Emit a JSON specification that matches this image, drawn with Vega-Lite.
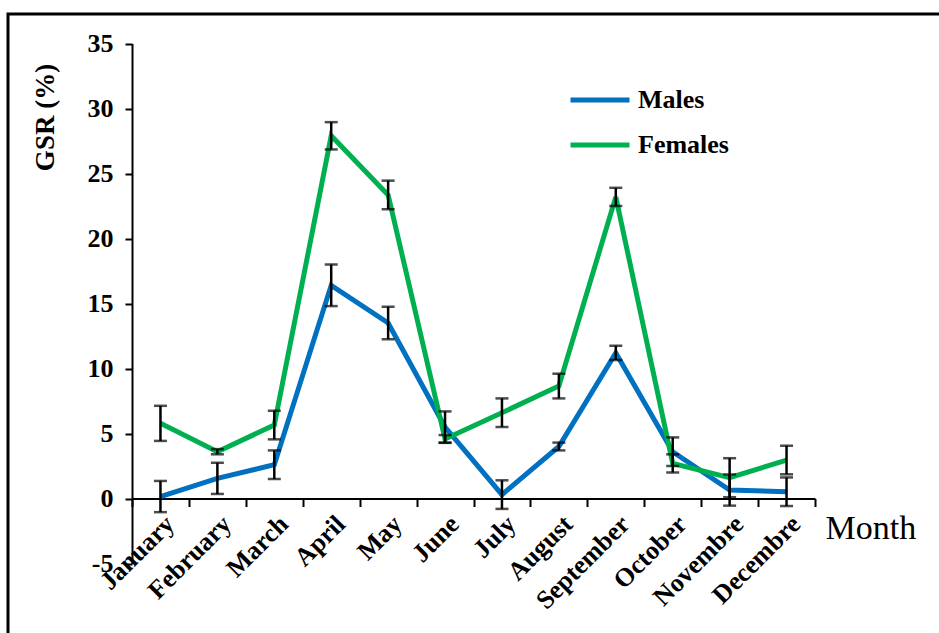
{
  "$schema": "https://vega.github.io/schema/vega-lite/v6.json",
  "width": 935,
  "height": 623,
  "autosize": {"type": "none"},
  "padding": {"left": 8, "top": 14, "right": -4, "bottom": -4},
  "background": "white",
  "config": {
    "view": {"stroke": "black", "strokeWidth": 3},
    "font": "Liberation Serif",
    "axis": {
      "grid": false,
      "domainColor": "black",
      "domainWidth": 2,
      "tickColor": "black",
      "tickWidth": 2,
      "tickSize": 8,
      "labelColor": "black",
      "labelFont": "Liberation Serif",
      "labelFontWeight": "bold",
      "labelFontSize": 26,
      "titleColor": "black",
      "titleFont": "Liberation Serif"
    },
    "legend": {
      "labelFont": "Liberation Serif",
      "labelFontWeight": "bold",
      "labelFontSize": 26,
      "labelColor": "black"
    }
  },
  "data": {
    "values": [
      {"month": "January", "sex": "Males", "value": 0.15, "err": 1.2},
      {"month": "February", "sex": "Males", "value": 1.55, "err": 1.2},
      {"month": "March", "sex": "Males", "value": 2.6, "err": 1.1},
      {"month": "April", "sex": "Males", "value": 16.4, "err": 1.6},
      {"month": "May", "sex": "Males", "value": 13.5, "err": 1.25},
      {"month": "June", "sex": "Males", "value": 5.5, "err": 1.2},
      {"month": "July", "sex": "Males", "value": 0.3, "err": 1.1},
      {"month": "August", "sex": "Males", "value": 4.0, "err": 0.3},
      {"month": "September", "sex": "Males", "value": 11.2, "err": 0.55},
      {"month": "October", "sex": "Males", "value": 3.6, "err": 1.1},
      {"month": "Novembre", "sex": "Males", "value": 0.65, "err": 1.2},
      {"month": "Decembre", "sex": "Males", "value": 0.52, "err": 1.1},
      {"month": "January", "sex": "Females", "value": 5.78, "err": 1.35},
      {"month": "February", "sex": "Females", "value": 3.6, "err": 0.2},
      {"month": "March", "sex": "Females", "value": 5.65, "err": 1.1},
      {"month": "April", "sex": "Females", "value": 27.9, "err": 1.05},
      {"month": "May", "sex": "Females", "value": 23.35, "err": 1.1},
      {"month": "June", "sex": "Females", "value": 4.58, "err": 0.3},
      {"month": "July", "sex": "Females", "value": 6.6, "err": 1.1},
      {"month": "August", "sex": "Females", "value": 8.65, "err": 0.95},
      {"month": "September", "sex": "Females", "value": 23.2, "err": 0.7},
      {"month": "October", "sex": "Females", "value": 2.7, "err": 0.7},
      {"month": "Novembre", "sex": "Females", "value": 1.6, "err": 1.5},
      {"month": "Decembre", "sex": "Females", "value": 2.96, "err": 1.1}
    ]
  },
  "encoding": {
    "x": {
      "field": "month",
      "type": "ordinal",
      "bandPosition": 0.5,
      "sort": ["January", "February", "March", "April", "May", "June", "July", "August", "September", "October", "Novembre", "Decembre"],
      "scale": {"type": "band", "range": [124, 807], "paddingInner": 0, "paddingOuter": 0},
      "axis": {
        "orient": "bottom",
        "offset": -138.5,
        "labelAngle": -45,
        "tickBand": "extent",
        "labelPadding": 4,
        "title": "Month",
        "titleFontSize": 34,
        "titleFontWeight": "normal",
        "titleX": 817,
        "titleY": 39.5,
        "titleAlign": "left",
        "titleBaseline": "alphabetic"
      }
    }
  },
  "layer": [
    {
      "mark": {"type": "line", "strokeWidth": 5},
      "encoding": {
        "y": {
          "field": "value",
          "type": "quantitative",
          "title": "GSR (%)",
          "scale": {"domain": [-5, 35], "range": [549.5, 29.5], "nice": false, "zero": false},
          "axis": {
            "orient": "left",
            "offset": -124,
            "values": [-5, 0, 5, 10, 15, 20, 25, 30, 35],
            "labelExpr": "'' + datum.value",
            "tickSize": 7,
            "labelPadding": 12,
            "title": "GSR (%)",
            "titleFontSize": 27,
            "titleFontWeight": "bold",
            "titleX": -87,
            "titleY": 103,
            "titleAlign": "center",
            "titleBaseline": "middle",
            "titleAngle": 270
          }
        },
        "color": {
          "field": "sex",
          "type": "nominal",
          "sort": ["Males", "Females"],
          "scale": {"domain": ["Males", "Females"], "range": ["#0070C0", "#00B050"]},
          "legend": {
            "title": null,
            "orient": "none",
            "legendX": 560,
            "legendY": 54,
            "padding": 0,
            "symbolType": "stroke",
            "symbolSize": 3481,
            "symbolStrokeWidth": 5,
            "rowPadding": -16,
            "labelOffset": 6
          }
        }
      }
    },
    {
      "mark": {"type": "errorbar", "ticks": {"size": 13, "thickness": 2.5, "color": "black"}, "thickness": 2.5, "color": "black"},
      "encoding": {
        "y": {"field": "value", "type": "quantitative", "title": "GSR (%)"},
        "yError": {"field": "err"},
        "detail": {"field": "sex"}
      }
    }
  ]
}
